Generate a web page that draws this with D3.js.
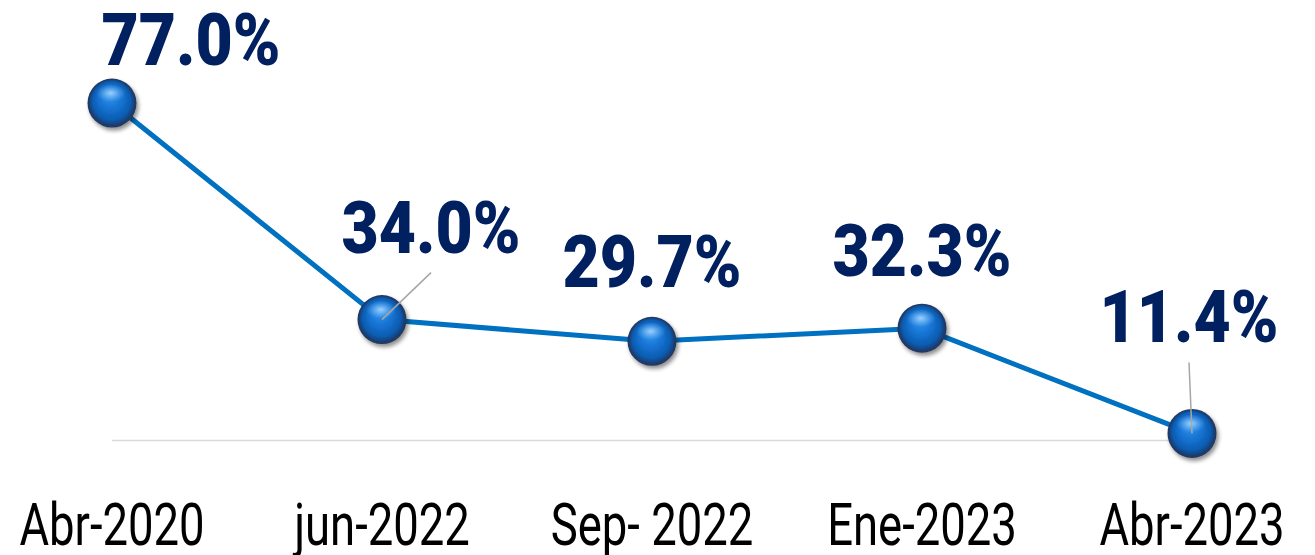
<!DOCTYPE html>
<html>
<head>
<meta charset="utf-8">
<script src="https://cdn.jsdelivr.net/npm/d3@7"></script>
<style>
  html, body { margin: 0; padding: 0; background: #ffffff; }
  svg { display: block; }
</style>
</head>
<body>
<svg id="chart" width="1315" height="555"></svg>
<script>
// Periods and the share for each one (percent)
const categories = ["Abr-2020", "jun-2022", "Sep- 2022", "Ene-2023", "Abr-2023"];
const values = [77.0, 34.0, 29.7, 32.3, 11.4];
const valueLabels = ["77.0%", "34.0%", "29.7%", "32.3%", "11.4%"];

// Label placement relative to each point: [dx, dy of baseline], and whether a leader line is drawn
const labelOffsets = [[79, -38], [49, -67], [0, -54], [0, -52], [-3, -91]];
const leaderFlags = [false, true, false, false, true];

const svg = d3.select("#chart");
const W = 1315, H = 555;

const x = d3.scalePoint().domain(categories).range([112, 1192]);
const y = d3.scaleLinear().domain([10, 80]).range([440.5, 87.9]);

const defs = svg.append("defs");

const grad = defs.append("radialGradient")
  .attr("id", "sphere").attr("cx", "50%").attr("cy", "50%").attr("r", "50%")
  .attr("fx", "45%").attr("fy", "30%");
grad.append("stop").attr("offset", "0%").attr("stop-color", "#3a9af0");
grad.append("stop").attr("offset", "45%").attr("stop-color", "#1574d4");
grad.append("stop").attr("offset", "78%").attr("stop-color", "#0d5cb0");
grad.append("stop").attr("offset", "92%").attr("stop-color", "#163f78");
grad.append("stop").attr("offset", "100%").attr("stop-color", "#2a3550");

const hl = defs.append("radialGradient")
  .attr("id", "gloss").attr("cx", "50%").attr("cy", "50%").attr("r", "50%");
hl.append("stop").attr("offset", "0%").attr("stop-color", "#bfe2ff").attr("stop-opacity", 0.75);
hl.append("stop").attr("offset", "100%").attr("stop-color", "#7cc0ff").attr("stop-opacity", 0);

const shadow = defs.append("filter").attr("id", "shadow")
  .attr("x", "-50%").attr("y", "-50%").attr("width", "200%").attr("height", "200%");
shadow.append("feGaussianBlur").attr("in", "SourceAlpha").attr("stdDeviation", 2.2).attr("result", "b");
shadow.append("feOffset").attr("in", "b").attr("dx", 1.5).attr("dy", 2.5).attr("result", "o");
shadow.append("feComponentTransfer").attr("in", "o").attr("result", "s")
  .append("feFuncA").attr("type", "linear").attr("slope", 0.45);
const merge = shadow.append("feMerge");
merge.append("feMergeNode").attr("in", "s");
merge.append("feMergeNode").attr("in", "SourceGraphic");

// Category axis line
svg.append("line")
  .attr("x1", x(categories[0])).attr("x2", x(categories[categories.length - 1]))
  .attr("y1", y(10)).attr("y2", y(10))
  .attr("stroke", "#d9d9d9").attr("stroke-width", 1.5);

// Category labels
const axisFactor = 0.77;
svg.append("g").selectAll("text")
  .data(categories)
  .join("text")
  .attr("transform", d => `translate(${x(d)},545) scale(${axisFactor},1)`)
  .attr("text-anchor", "middle")
  .attr("font-family", "Roboto, 'Liberation Sans', sans-serif")
  .attr("font-size", 59)
  .attr("fill", "#000000")
  .text(d => d);

// Series line
const pts = categories.map((c, i) => [x(c), y(values[i])]);
svg.append("path")
  .attr("d", d3.line()(pts))
  .attr("fill", "none")
  .attr("stroke", "#0070c0")
  .attr("stroke-width", 5)
  .attr("stroke-linejoin", "round");

// Sphere markers
const markers = svg.append("g").selectAll("g")
  .data(pts)
  .join("g")
  .attr("transform", d => `translate(${d[0]},${d[1]})`);
markers.append("circle")
  .attr("r", 24.5)
  .attr("fill", "url(#sphere)")
  .attr("filter", "url(#shadow)");
markers.append("ellipse")
  .attr("cx", -1).attr("cy", -10).attr("rx", 15).attr("ry", 9)
  .attr("fill", "url(#gloss)");

// Leader lines from point to label
svg.append("g").selectAll("line")
  .data(pts.map((p, i) => ({ p, i })).filter(d => leaderFlags[d.i]))
  .join("line")
  .attr("x1", d => d.p[0]).attr("y1", d => d.p[1])
  .attr("x2", d => d.p[0] + labelOffsets[d.i][0])
  .attr("y2", d => d.p[1] + labelOffsets[d.i][1] + 20)
  .attr("stroke", "#a6a6a6").attr("stroke-width", 1.5);

// Value labels
const labelFactor = 0.88;
svg.append("g").selectAll("text")
  .data(pts)
  .join("text")
  .attr("transform", (d, i) =>
    `translate(${d[0] + labelOffsets[i][0]},${d[1] + labelOffsets[i][1]}) scale(${labelFactor},1)`)
  .attr("text-anchor", "middle")
  .attr("font-family", "Roboto, 'Liberation Sans', sans-serif")
  .attr("font-weight", 900)
  .attr("font-size", 73)
  .attr("fill", "#002060")
  .text((d, i) => valueLabels[i]);
</script>
</body>
</html>
